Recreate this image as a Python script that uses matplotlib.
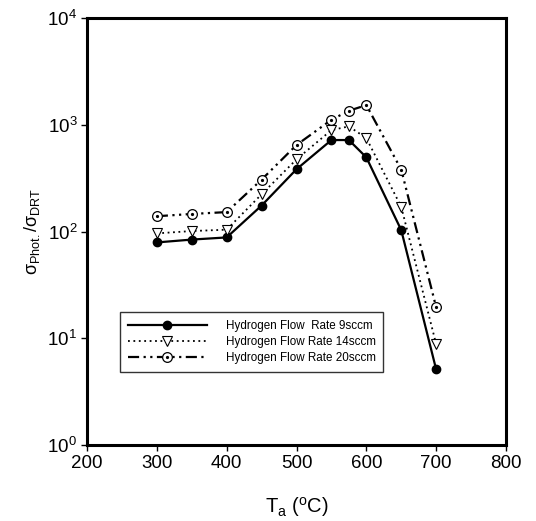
import matplotlib
matplotlib.use("Agg")
import matplotlib.pyplot as plt
from matplotlib.legend_handler import HandlerTuple

plt.rcParams['font.family'] = ['Liberation Sans', 'DejaVu Sans']
plt.rcParams['mathtext.fontset'] = 'custom'
plt.rcParams['mathtext.rm'] = 'Liberation Sans'
plt.rcParams['mathtext.it'] = 'Liberation Sans'
plt.rcParams['mathtext.default'] = 'regular'

temps = [300, 350, 400, 450, 500, 550, 575, 600, 650, 700]
rate9 = [79, 84, 88, 175, 383, 719, 719, 495, 103, 5.1]
rate14 = [96, 101, 104, 223, 474, 891, 965, 750, 170, 8.8]
rate20 = [139, 146, 152, 306, 646, 1113, 1352, 1527, 380, 19.5]
labels = ["Hydrogen Flow  Rate 9sccm", "Hydrogen Flow Rate 14sccm", "Hydrogen Flow Rate 20sccm"]
xticks = [200, 300, 400, 500, 600, 700, 800]

fig = plt.figure(figsize=(5.36, 5.21), dpi=100)
ax = fig.add_axes([87/536, 1-445/521, 419/536, 427/521])

l1, = ax.plot(temps, rate9, color='black', lw=1.6, marker='o', ms=6,
              mfc='black', mec='black')
l2, = ax.plot(temps, rate14, color='black', lw=1.3, ls=(0, (1, 2)), marker='v', ms=7,
              mfc='white', mec='black', mew=0.8)
l3, = ax.plot(temps, rate20, color='black', lw=1.6, ls=(0, (5, 2, 1, 2, 1, 2)), marker='o', ms=7,
              mfc='white', mec='black', mew=0.9)
l3d, = ax.plot(temps, rate20, ls='none', marker='o', ms=1.3, mfc='black', mec='black')

ax.set_yscale('log')
ax.set_ylim(1, 1e4)
ax.set_xlim(200, 800)
ax.set_xticks(xticks)
ax.minorticks_off()
ax.yaxis.set_minor_locator(matplotlib.ticker.NullLocator())

for s in ax.spines.values():
    s.set_linewidth(2.2)
ax.tick_params(direction='out', length=4, width=1, labelsize=13.5, pad=3)

ax.set_xlabel(r'T$_\mathrm{a}$ ($^\mathrm{o}$C)', fontsize=14.5, labelpad=17)
ax.set_ylabel(r'$\sigma_{\mathrm{Phot.}}/\sigma_{\mathrm{DRT}}$', fontsize=13, labelpad=4)

leg = ax.legend([l1, l2, (l3, l3d)], labels, handler_map={tuple: HandlerTuple(ndivide=1, pad=0)},
                loc='upper left', bbox_to_anchor=(0.079, 0.311), fontsize=8.4,
                frameon=True, fancybox=False, edgecolor='black', handlelength=6.8,
                handletextpad=1.6, labelspacing=0.35, borderpad=0.65, borderaxespad=0,
                numpoints=1)
leg.get_frame().set_linewidth(1.0)

fig.savefig('out.png', dpi=100)
